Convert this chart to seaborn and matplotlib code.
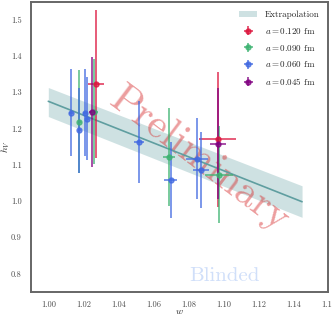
import matplotlib
matplotlib.use("Agg")
from matplotlib import pyplot as plt
import numpy as np
import pandas as pd
import seaborn as sns

# extrapolation band (linear fit in w)
w_fit = [1.00, 1.145]
h_fit = [1.275, 0.998]
h_fit_lo = [1.233, 0.955]
h_fit_hi = [1.313, 1.042]

# lattice data, one set per spacing
labels = [r"$a=0.120$ fm", r"$a=0.090$ fm", r"$a=0.060$ fm", r"$a=0.045$ fm"]
colors = ["#dc143c", "#3cb371", "#4169e1", "#800080"]

w_120 = [1.0271, 1.0968]
h_120 = [1.323, 1.170]
herr_120 = [0.205, 0.187]
werr_120 = [0.0046, 0.0107]

w_090 = [1.0177, 1.0263, 1.0690, 1.0977]
h_090 = [1.218, 1.246, 1.121, 1.073]
herr_090 = [0.142, 0.145, 0.135, 0.133]
werr_090 = [0.001, 0.002, 0.0034, 0.008]

w_060 = [1.0130, 1.0177, 1.0210, 1.0223, 1.0517, 1.0700, 1.0848, 1.0871]
h_060 = [1.243, 1.195, 1.243, 1.227, 1.163, 1.058, 1.117, 1.085]
herr_060 = [0.120, 0.118, 0.120, 0.115, 0.113, 0.105, 0.112, 0.105]
werr_060 = [0.001, 0.001, 0.001, 0.001, 0.003, 0.0038, 0.0063, 0.0045]

w_045 = [1.0250, 1.0968]
h_045 = [1.246, 1.158]
herr_045 = [0.152, 0.153]
werr_045 = [0.0015, 0.0046]

xticks = [1.00, 1.02, 1.04, 1.06, 1.08, 1.10, 1.12, 1.14, 1.16]
yticks = [0.8, 0.9, 1.0, 1.1, 1.2, 1.3, 1.4, 1.5]

sns.set_style("white")
plt.rcParams["font.family"] = "serif"
plt.rcParams["font.serif"] = ["cmr10", "DejaVu Serif"]
plt.rcParams["mathtext.fontset"] = "cm"
plt.rcParams["axes.formatter.use_mathtext"] = True

fig = plt.figure(figsize=(3.32, 3.16), dpi=100)
ax = fig.add_axes([0.0928, 0.077, 0.8961, 0.918])

fit = pd.DataFrame({"w": w_fit, "h": h_fit})
ax.fill_between(w_fit, h_fit_lo, h_fit_hi, color="#5f9ea0", alpha=0.3,
                linewidth=0, zorder=1, label="Extrapolation")
sns.lineplot(data=fit, x="w", y="h", color="#5f9ea0", linewidth=1.2, ax=ax, zorder=2)

sets = [
    (w_120, h_120, werr_120, herr_120),
    (w_090, h_090, werr_090, herr_090),
    (w_060, h_060, werr_060, herr_060),
    (w_045, h_045, werr_045, herr_045),
]
for (w, h, we, he), lab, c in zip(sets, labels, colors):
    ax.errorbar(w, h, xerr=we, yerr=he, fmt="o", color=c, ms=3.6,
                elinewidth=1.3, alpha=0.75, capsize=0, label=lab, zorder=3)

ax.text(0.566, 0.455, "Preliminary", transform=ax.transAxes, fontsize=30,
        color="tab:red", alpha=0.45, rotation=-37, ha="center", va="center",
        zorder=1.5)
ax.text(0.65, 0.055, "Blinded", transform=ax.transAxes, fontsize=15,
        color="cornflowerblue", alpha=0.3, ha="center", va="center", zorder=1.5)

ax.set_xlim(0.99, 1.16)
ax.set_ylim(0.75, 1.55)
ax.set_xticks(xticks)
ax.set_xticklabels([f"{t:.2f}" for t in xticks])
ax.set_yticks(yticks)
ax.set_yticklabels([f"{t:.1f}" for t in yticks])
ax.tick_params(labelsize=6, colors="0.3", pad=3)
for s in ax.spines.values():
    s.set_color("0.4")
    s.set_linewidth(1.4)

ax.set_xlabel(r"$w$", fontsize=7, labelpad=-1)
ax.set_ylabel(r"$h_V$", fontsize=7, labelpad=-1)

ax.legend(loc="upper right", fontsize=6.5, frameon=False, borderaxespad=0.6,
          labelspacing=0.75)

fig.savefig("out.png", dpi=100)
